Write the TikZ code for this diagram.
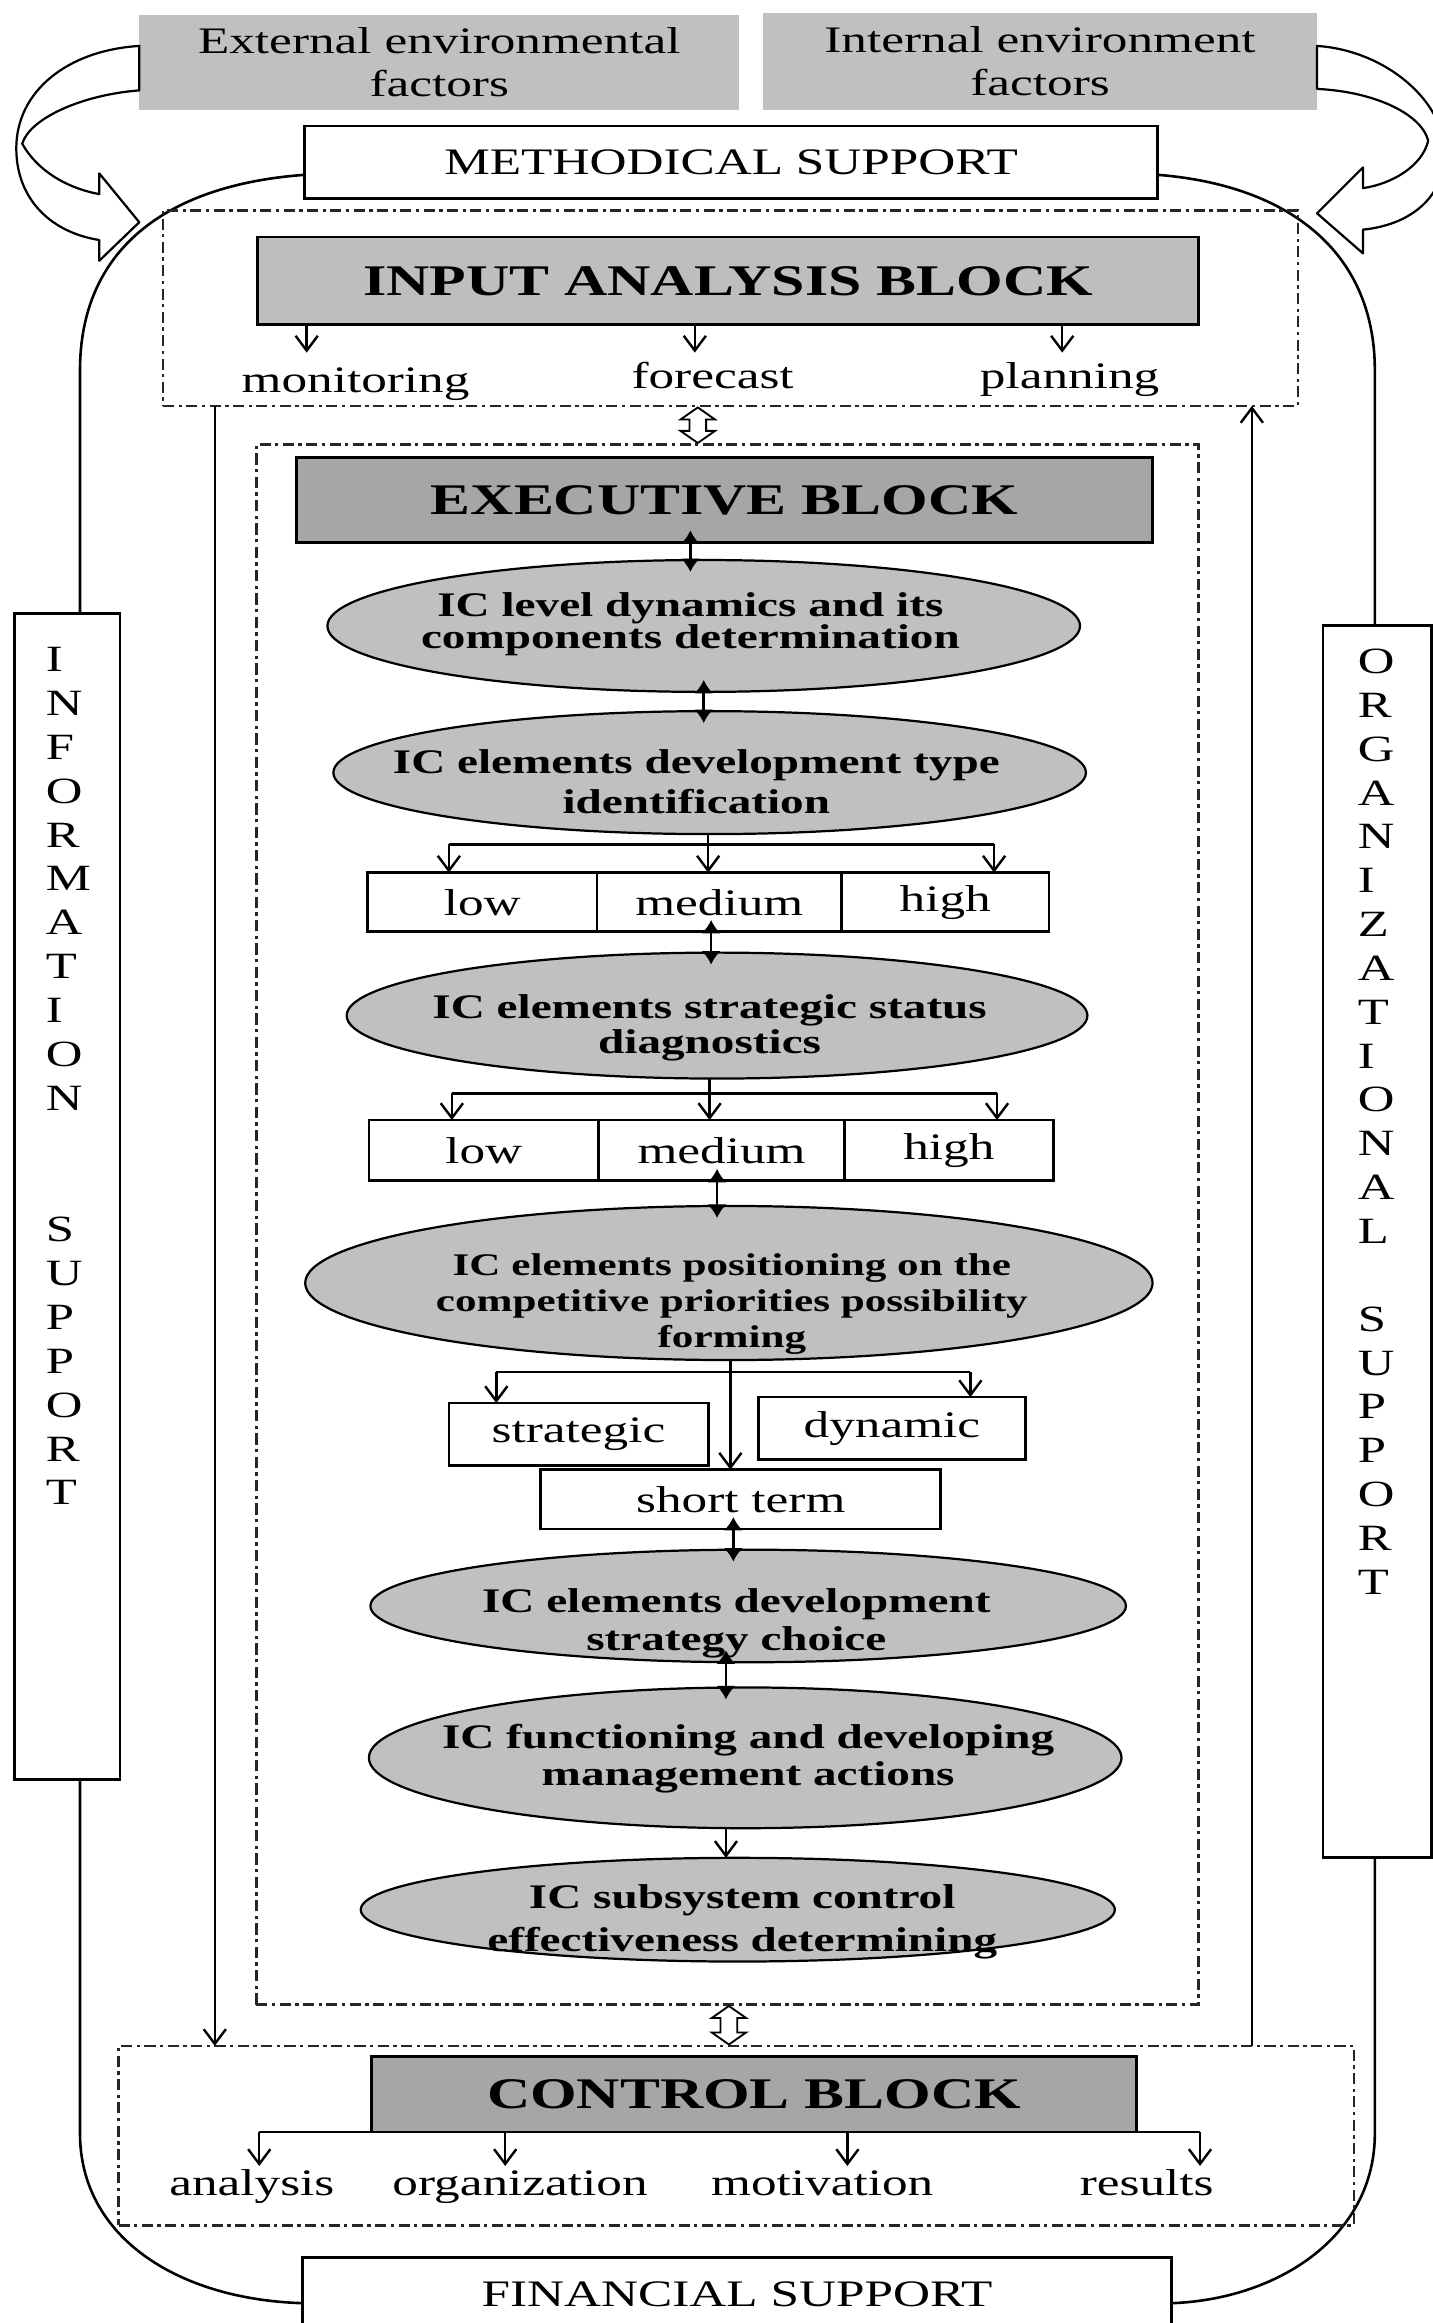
\documentclass[tikz,border=0pt]{standalone}
\usepackage{fontspec}
\setmainfont{Liberation Serif}[FakeStretch=1.37]
\usetikzlibrary{arrows.meta,shapes.geometric,shapes.arrows}
\newlength\un
\setlength\un{0.4pt}
\definecolor{facgray}{HTML}{C0C0C0}
\definecolor{inpgray}{HTML}{BEBEBE}
\definecolor{exgray}{HTML}{A6A6A6}
\definecolor{ellgray}{HTML}{C0C0C0}
\begin{document}
\begin{tikzpicture}[x=0.4pt,y=-0.4pt,
  every node/.style={inner sep=0pt,outer sep=0pt},
  fac/.style={fill=facgray,align=center,font=\fontsize{10.1}{11.6}\selectfont},
  wbox/.style={draw,fill=white,line width=0.75pt,font=\fontsize{10.1}{12}\selectfont},
  blk/.style={draw,line width=0.75pt,font=\bfseries\fontsize{11.8}{14}\selectfont},
  ddash/.style={draw=black!85,line width=0.7pt,dash pattern=on 3pt off 1.2pt on 0.9pt off 1.2pt},
  ell/.style={ellipse,draw,fill=ellgray,line width=0.6pt},
  etxt/.style={anchor=north,align=center},
  lbl/.style={anchor=base,font=\fontsize{10.1}{12}\selectfont},
  vtxt/.style={anchor=north west,align=left,font=\fontsize{10}{11.84}\selectfont},
  dbl/.style={{Latex[length=3.6pt,width=5.2pt]}-{Latex[length=3.6pt,width=5.2pt]},line width=0.7pt,shorten <=-8\un,shorten >=-8\un},
  arr/.style={-{Straight Barb[length=4pt,width=6pt]},line width=0.65pt},
  conn/.style={line width=0.65pt},
  hol/.style={double arrow,draw,fill=white,line width=0.5pt,rotate=90,inner sep=2pt,double arrow head extend=2.4pt,double arrow tip angle=110},
  carr/.style={line width=0.6pt,line join=round},
  loopline/.style={line width=0.7pt}
]
\useasboundingbox (0,0) rectangle (967,1568);

% top factor boxes
\node[fac,minimum width=405\un,minimum height=64\un] (ext) at (296.5,42) {External environmental\\factors};
\node[fac,minimum width=374\un,minimum height=65\un] (int) at (702,41.5) {Internal environment\\factors};

% support boxes top / bottom
\node[wbox,minimum width=576\un,minimum height=49\un] (meth) at (493.5,109.5) {METHODICAL SUPPORT};
\node[wbox,minimum width=587\un,minimum height=49.2\un] (fin) at (497.5,1548.6) {FINANCIAL SUPPORT};

% outer loop
\draw[loopline] ([yshift=-8.5\un]meth.west) .. controls (110,125) and (54,170) .. (54,250)
   -- (54,1440) .. controls (54,1510) and (120,1552) .. ([yshift=-6\un]fin.west);
\draw[loopline] ([yshift=-8.5\un]meth.east) .. controls (870,125) and (928,170) .. (928,250)
   -- (928,1440) .. controls (928,1510) and (862,1552) .. ([yshift=-6\un]fin.east);

% curved block arrows
\draw[carr] ([yshift=-21\un]ext.north west) .. controls (45,34) and (11,62) .. (11,100)
   .. controls (11,135) and (35,157) .. (67,162) -- (67,176) -- (94,150) -- (67,117) -- (67,131)
   .. controls (45,127) and (25,115) .. (15,97) .. controls (20,80) and (55,64) .. ([yshift=-51\un]ext.north west) -- cycle;
\draw[carr] ([yshift=-22\un]int.north east) .. controls (935,34) and (975,68) .. (975,103)
   .. controls (975,135) and (950,152) .. (920,155) -- (920,171) -- (889,144) -- (920,113) -- (920,127)
   .. controls (940,124) and (960,112) .. (964,95) .. controls (960,78) and (930,62) .. ([yshift=-51\un]int.north east) -- cycle;

% side support boxes
\node[wbox,minimum width=71\un,minimum height=787\un] (info) at (45.5,807.5) {};
\node[vtxt] (infot) at (31,437) {I\\N\\F\\O\\R\\M\\A\\T\\I\\O\\N\\\strut\\\strut\\S\\U\\P\\P\\O\\R\\T};
\node[wbox,minimum width=73\un,minimum height=832\un] (org) at (929.5,838) {};
\node[vtxt] (orgt) at (916.5,438) {O\\R\\G\\A\\N\\I\\Z\\A\\T\\I\\O\\N\\A\\L\\\strut\\S\\U\\P\\P\\O\\R\\T};

% input analysis block
\node[ddash,minimum width=766\un,minimum height=132\un] (inp) at (493,208) {};
\node[blk,fill=inpgray,minimum width=635\un,minimum height=59\un] (inpb) at (491.5,189.5) {INPUT ANALYSIS BLOCK};
\node[lbl] (mon) at (240,265) {monitoring};
\node[lbl] (fore) at (481,262) {forecast};
\node[lbl] (plan) at (722,262) {planning};
\coordinate (ia) at (207,238);
\coordinate (ib) at (469,238);
\coordinate (ic) at (717,238);
\draw[arr] (inpb.south -| ia) -- (ia);
\draw[arr] (inpb.south -| ib) -- (ib);
\draw[arr] (inpb.south -| ic) -- (ic);

% executive block
\node[ddash,minimum width=636\un,minimum height=1053\un] (exd) at (491,826.5) {};
\node[hol,minimum height=24\un] (h1) at (471,287) {};
\node[blk,fill=exgray,minimum width=578\un,minimum height=57\un] (exb) at (489,337.5) {EXECUTIVE BLOCK};

\node[ell,minimum width=508\un,minimum height=89\un] (e1) at (475,422.5) {};
\node[etxt,font=\bfseries\fontsize{9.3}{8.64}\selectfont] (t1) at (466,400) {IC level dynamics and its\\components determination};
\node[ell,minimum width=508\un,minimum height=83\un] (e2) at (479,521.5) {};
\node[etxt,font=\bfseries\fontsize{9.3}{10.8}\selectfont] (t2) at (470,506) {IC elements development type\\identification};

\coordinate (xa) at (466,0);
\coordinate (xb) at (475,0);
\draw[dbl] (exb.south -| xa) -- (e1.north -| xa);
\draw[dbl] (e1.south -| xb) -- (e2.north -| xb);

\node[wbox,minimum width=155\un,minimum height=40\un] (low1) at (325.5,609) {low};
\node[wbox,minimum width=165\un,minimum height=40\un] (med1) at (485.5,609) {medium};
\node[wbox,minimum width=140\un,minimum height=40\un] (high1) at (638,609) {high};
\coordinate (j1) at (478,570);
\coordinate (j1l) at (303,570);
\coordinate (j1r) at (671,570);
\draw[conn] (e2.south -| j1) -- (j1);
\draw[conn] (j1l) -- (j1r);
\draw[arr] (j1l) -- (low1.north -| j1l);
\draw[arr] (j1) -- (med1.north -| j1);
\draw[arr] (j1r) -- (high1.north -| j1r);

\node[ell,minimum width=500\un,minimum height=85\un] (e3) at (484,685.5) {};
\node[etxt,font=\bfseries\fontsize{9.3}{8.4}\selectfont] (t3) at (479,671) {IC elements strategic status\\diagnostics};
\coordinate (xc) at (480,0);
\draw[dbl] (med1.south -| xc) -- (e3.north -| xc);

\node[wbox,minimum width=155\un,minimum height=41\un] (low2) at (326.5,776.5) {low};
\node[wbox,minimum width=166\un,minimum height=41\un] (med2) at (487,776.5) {medium};
\node[wbox,minimum width=141\un,minimum height=41\un] (high2) at (640.5,776.5) {high};
\coordinate (j2) at (479,738);
\coordinate (j2l) at (305,738);
\coordinate (j2r) at (673,738);
\draw[conn] (e3.south -| j2) -- (j2);
\draw[conn] (j2l) -- (j2r);
\draw[arr] (j2l) -- (low2.north -| j2l);
\draw[arr] (j2) -- (med2.north -| j2);
\draw[arr] (j2r) -- (high2.north -| j2r);

\node[ell,minimum width=572\un,minimum height=104\un] (e4) at (492,866) {};
\node[etxt,font=\bfseries\fontsize{8.5}{9.8}\selectfont] (t4) at (494,846) {IC elements positioning on the\\competitive priorities possibility\\forming};
\coordinate (xd) at (484,0);
\draw[dbl] (med2.south -| xd) -- (e4.north -| xd);

\node[wbox,minimum width=175\un,minimum height=42\un] (strat) at (390.5,968) {strategic};
\node[wbox,minimum width=180\un,minimum height=42\un] (dyn) at (602,964) {dynamic};
\node[wbox,minimum width=270\un,minimum height=40\un] (st) at (500,1012) {short term};
\coordinate (j3) at (493,926);
\coordinate (j3l) at (335,926);
\coordinate (j3r) at (655,926);
\draw[conn] (j3l) -- (j3r);
\draw[arr] (e4.south -| j3) -- (st.north -| j3);
\draw[arr] (j3l) -- (strat.north -| j3l);
\draw[arr] (j3r) -- (dyn.north -| j3r);

\node[ell,minimum width=510\un,minimum height=76\un] (e5) at (505,1084) {};
\node[etxt,font=\bfseries\fontsize{9.3}{10.4}\selectfont] (t5) at (497,1072) {IC elements development\\strategy choice};
\coordinate (xe) at (495,0);
\draw[dbl] (st.south -| xe) -- (e5.north -| xe);

\node[ell,minimum width=508\un,minimum height=95\un] (e6) at (503,1186.5) {};
\node[etxt,font=\bfseries\fontsize{9.3}{10}\selectfont] (t6) at (505,1164) {IC functioning and developing\\management actions};
\coordinate (xf) at (490,0);
\draw[dbl] (e5.south -| xf) -- (e6.north -| xf);

\node[ell,minimum width=509\un,minimum height=70\un] (e7) at (498,1289) {};
\node[etxt,font=\bfseries\fontsize{9.3}{11.6}\selectfont] (t7) at (501,1272) {IC subsystem control\\effectiveness determining};
\draw[arr] (e6.south -| xf) -- (e7.north -| xf);

% control block
\node[hol,minimum height=26\un] (h2) at (492,1367) {};
\node[ddash,minimum width=834\un,minimum height=121\un] (ctl) at (497,1441.5) {};
\node[blk,fill=exgray,minimum width=516\un,minimum height=51\un] (ctlb) at (509,1413.5) {CONTROL BLOCK};
\coordinate (ca) at (175,1462);
\coordinate (cb) at (341,1462);
\coordinate (cc) at (572,1462);
\coordinate (cd) at (810,1462);
\draw[conn] (ctlb.south -| ca) -- (ctlb.south -| cd);
\draw[arr] (ctlb.south -| ca) -- (ca);
\draw[arr] (ctlb.south -| cb) -- (cb);
\draw[arr] (ctlb.south -| cc) -- (cc);
\draw[arr] (ctlb.south -| cd) -- (cd);
\node[lbl] (ana) at (170,1482) {analysis};
\node[lbl] (orgn) at (351,1482) {organization};
\node[lbl] (mot) at (555,1482) {motivation};
\node[lbl] (res) at (774,1482) {results};

% long feedback arrows
\coordinate (xl) at (145,0);
\coordinate (xr) at (845,0);
\draw[arr] (inp.south -| xl) -- (ctl.north -| xl);
\draw[arr] (ctl.north -| xr) -- (inp.south -| xr);
\end{tikzpicture}
\end{document}
